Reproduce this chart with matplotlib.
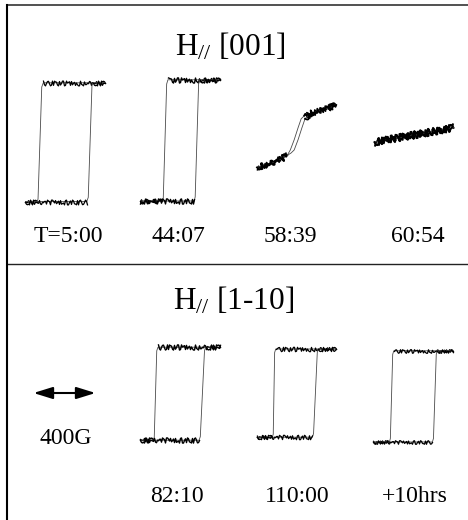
import matplotlib
matplotlib.use('Agg')
import matplotlib.pyplot as plt
from matplotlib.lines import Line2D
from matplotlib.patches import ArrowStyle

plt.rcParams['font.family'] = ['Liberation Serif', 'DejaVu Serif']
plt.rcParams['mathtext.fontset'] = 'custom'
plt.rcParams['mathtext.rm'] = 'Liberation Serif'
plt.rcParams['mathtext.it'] = 'Liberation Serif:italic'
plt.rcParams['mathtext.default'] = 'rm'

# ---------------- data (field in G, moment in arb. units) ----------------
panel_titles = ["H$_{//}$ [001]", "H$_{//}$ [1-10]"]
top_labels = ["T=5:00", "44:07", "58:39", "60:54"]
bottom_labels = ["82:10", "110:00", "+10hrs"]
scale_bar_G = 400
scale_label = "400G"

# loop 1  (T=5:00)
L1_H_down = [255, -140, -150, -174, -180, -255]
L1_M_down = [0.97, 0.97, 0.90, -0.97, -1.01, -1.01]
L1_H_up = [-255, 140, 150, 174, 180, 255]
L1_M_up = [-1.01, -1.01, -0.94, 0.93, 0.97, 0.97]
# loop 2  (44:07)
L2_H_down = [255, -78, -86, -108, -114, -255]
L2_M_down = [1.02, 1.02, 0.95, -0.96, -1.00, -1.00]
L2_H_up = [-255, 92, 98, 120, 126, 255]
L2_M_up = [-1.00, -1.00, -0.93, 0.95, 1.02, 1.02]
# loop 3  (58:39)
L3_H_down = [255, 200, 140, 90, 50, 30, 10, -15, -40, -60, -90, -140, -200, -255]
L3_M_down = [0.60, 0.54, 0.50, 0.46, 0.42, 0.37, 0.22, 0.02, -0.15, -0.24, -0.29, -0.35, -0.40, -0.44]
L3_H_up = [-255, -200, -140, -90, -60, -35, -15, 10, 35, 55, 80, 140, 200, 255]
L3_M_up = [-0.44, -0.40, -0.35, -0.29, -0.24, -0.20, -0.15, 0.02, 0.22, 0.37, 0.44, 0.50, 0.54, 0.60]
# loop 4  (60:54)
L4_H_down = [255, 0, -255]
L4_M_down = [0.22, 0.10, -0.02]
L4_H_up = [-255, 0, 255]
L4_M_up = [-0.02, 0.10, 0.22]
# loop 5  (82:10)
L5_H_down = [255, -142, -150, -166, -172, -255]
L5_M_down = [0.78, 0.78, 0.72, -0.72, -0.77, -0.77]
L5_H_up = [-255, 123, 131, 158, 165, 255]
L5_M_up = [-0.77, -0.77, -0.71, 0.72, 0.78, 0.78]
# loop 6  (110:00)
L6_H_down = [255, -134, -141, -150, -156, -255]
L6_M_down = [0.75, 0.75, 0.69, -0.67, -0.72, -0.72]
L6_H_up = [-255, 102, 110, 134, 140, 255]
L6_M_up = [-0.72, -0.72, -0.66, 0.69, 0.75, 0.75]
# loop 7  (+10hrs)
L7_H_down = [255, -124, -131, -146, -152, -255]
L7_M_down = [0.72, 0.72, 0.66, -0.74, -0.80, -0.80]
L7_H_up = [-255, 125, 132, 150, 156, 255]
L7_M_up = [-0.80, -0.80, -0.74, 0.66, 0.72, 0.72]

# ---------------- layout ----------------
W, H = 468, 520
fig = plt.figure(figsize=(W / 100, H / 100), dpi=100)

G_PER_PX = 6.45
UNIT_PX = 60.0
XL, YL = 280, 1.3


def fpos(x, y):
    return x / W, 1 - y / H


def loop_axes(cx, cy):
    w = 2 * XL / G_PER_PX
    h = 2 * YL * UNIT_PX
    ax = fig.add_axes([(cx - w / 2) / W, 1 - (cy + h / 2) / H, w / W, h / H])
    ax.set_xlim(-XL, XL)
    ax.set_ylim(-YL, YL)
    ax.axis('off')
    return ax


square_flats = (slice(0, 2), slice(4, 6))
loops = [
    ((65, 141), (L1_H_down, L1_M_down), (L1_H_up, L1_M_up), square_flats, 2.4, 0.9),
    ((180, 141), (L2_H_down, L2_M_down), (L2_H_up, L2_M_up), square_flats, 2.6, 1.0),
    ((296.5, 141), (L3_H_down, L3_M_down), (L3_H_up, L3_M_up), (slice(0, 5), slice(9, 14)), 3.0, 1.3),
    ((414, 141), (L4_H_down, L4_M_down), (L4_H_up, L4_M_up), (slice(0, 3),), 3.6, 1.4),
    ((180, 394), (L5_H_down, L5_M_down), (L5_H_up, L5_M_up), square_flats, 2.6, 1.0),
    ((296.5, 394), (L6_H_down, L6_M_down), (L6_H_up, L6_M_up), square_flats, 2.2, 0.9),
    ((413, 394), (L7_H_down, L7_M_down), (L7_H_up, L7_M_up), square_flats, 1.8, 0.9),
]

for (cx, cy), down, up, flats, noise, nlw in loops:
    ax = loop_axes(cx, cy)
    for hs, ms in (down, up):
        ax.plot(hs, ms, color='#4a4a4a', lw=0.6, solid_joinstyle='round')
        for sl in flats:
            ln, = ax.plot(hs[sl], ms[sl], color='black', lw=nlw)
            ln.set_sketch_params(scale=noise, length=2.5, randomness=3)

# scale bar
sax = loop_axes(64.5, 393)
sax.annotate('', xy=(scale_bar_G / 2, 0), xytext=(-scale_bar_G / 2, 0),
             arrowprops=dict(arrowstyle=ArrowStyle('<|-|>', head_length=0.58, head_width=0.18),
                             mutation_scale=20, lw=1.5, color='black',
                             shrinkA=0, shrinkB=0))
fig.text(*fpos(66, 444), scale_label, ha='center', va='baseline', fontsize=17)

# titles and labels
fig.text(*fpos(230, 55), panel_titles[0], ha='center', va='baseline', fontsize=22.5)
fig.text(*fpos(234, 310), panel_titles[1], ha='center', va='baseline', fontsize=22.5)
for x, lab in zip([68, 178, 290, 418], top_labels):
    fig.text(*fpos(x, 242), lab, ha='center', va='baseline', fontsize=17)
for x, lab in zip([177, 297, 415], bottom_labels):
    fig.text(*fpos(x, 502), lab, ha='center', va='baseline', fontsize=17)

# frame lines
fig.add_artist(Line2D([7 / W, 1], [1 - 5 / H] * 2, color='#333333', lw=1.2))
fig.add_artist(Line2D([7 / W, 1], [1 - 264 / H] * 2, color='#222222', lw=1.0))
fig.add_artist(Line2D([7 / W] * 2, [1 - 5 / H, 0], color='black', lw=1.5))

fig.savefig('out.png', dpi=100, facecolor='white')
